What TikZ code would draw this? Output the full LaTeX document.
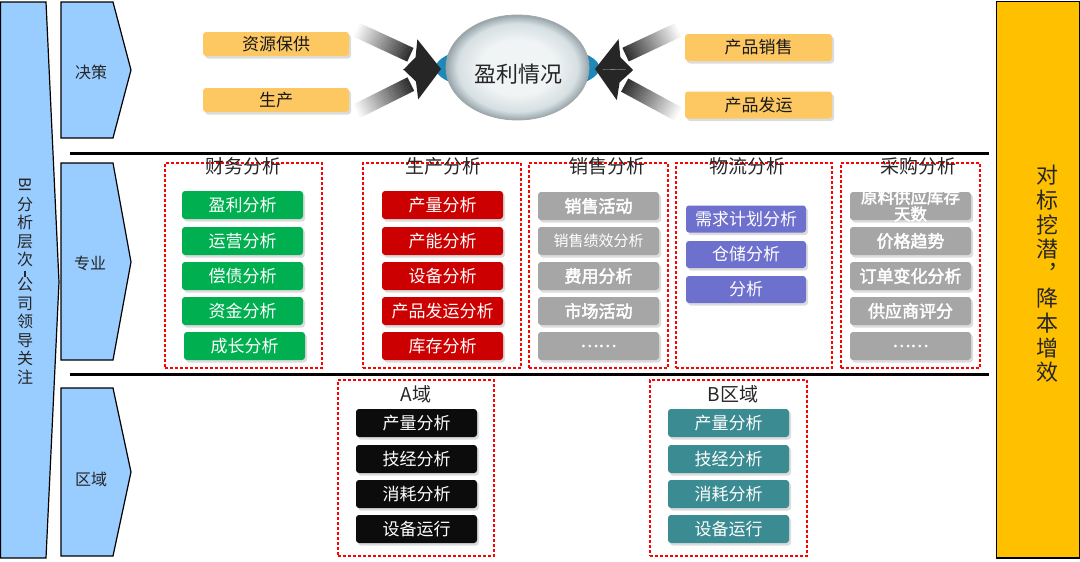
\documentclass[tikz,border=0pt]{standalone}
\usepackage{fontspec}
\setmainfont{Noto Sans CJK SC}[AutoFakeBold=2.5]
\usetikzlibrary{shapes.geometric,shadows,calc}
\definecolor{cblue}{RGB}{153,204,255}
\definecolor{cgold}{RGB}{255,192,0}
\definecolor{corange}{RGB}{253,200,98}
\definecolor{cgreen}{RGB}{0,176,80}
\definecolor{cred}{RGB}{204,0,0}
\definecolor{cgray}{RGB}{166,166,166}
\definecolor{cpurple}{RGB}{110,112,206}
\definecolor{cblack}{RGB}{12,12,12}
\definecolor{cteal}{RGB}{58,139,146}
\definecolor{ceye}{RGB}{30,136,184}
\definecolor{crim}{RGB}{150,165,171}
\definecolor{cmid}{RGB}{214,223,226}
\definecolor{ccore}{RGB}{240,244,245}
\pgfdeclareradialshading{lens}{\pgfpoint{0bp}{0bp}}{color(0bp)=(ccore); color(13bp)=(ccore); color(21bp)=(cmid); color(25bp)=(crim); color(50bp)=(crim)}
\newcommand\myfs[1]{\fontsize{#1}{#1}\selectfont}
\newcommand\fatarrow[2]{%
  \coordinate (ahS) at ($(#2)!34pt!(#1)$);
  \foreach \k in {0,...,23}{%
    \pgfmathsetmacro\fa{\k/24}%
    \pgfmathsetmacro\fb{(\k+1.1)/24}%
    \pgfmathsetmacro\fc{3+\k*3.4}%
    \draw[line width=15pt, black!\fc] ($(#1)!\fa!(ahS)$) -- ($(#1)!\fb!(ahS)$);
  }
  \fill[black!85] ($(ahS)!17pt!90:(#2)$) -- (#2) -- ($(ahS)!17pt!-90:(#2)$) -- ($(ahS)!6pt!(#2)$) -- cycle;
}
\tikzset{
  band/.style={fill=cblue, draw=black, line width=1.2pt, line join=miter},
  tag/.style={font=\myfs{16}, text=black!85, inner sep=0pt},
  shad/.style={drop shadow={shadow xshift=2pt, shadow yshift=-2.5pt, opacity=0.28}},
  obox/.style={fill=corange, rounded corners=3pt, minimum width=146pt, minimum height=24pt, inner sep=0pt, font=\myfs{17}, text=black!90, shad},
  sect/.style={draw=red, dash pattern=on 3pt off 2pt, line width=1.1pt, inner sep=0pt},
  stitle/.style={font=\myfs{19}, text=black!85, inner sep=0pt},
  abox/.style={rounded corners=3pt, minimum width=121pt, minimum height=28pt, inner sep=0pt, text=white, font=\myfs{17}, shad},
  gbox/.style={abox, fill=cgreen},
  rbox/.style={abox, fill=cred},
  sbox/.style={abox, fill=cgray, font=\myfs{17}\bfseries},
  pbox/.style={abox, fill=cpurple, minimum width=120pt, minimum height=27pt},
  kbox/.style={abox, fill=cblack},
  tbox/.style={abox, fill=cteal},
  sepline/.style={line width=3pt, black}
}
\begin{document}
\begin{tikzpicture}[x=1pt,y=-1pt]
\useasboundingbox (0,0) rectangle (1080,562);

% left bar
\draw[band] (0.6,2) -- (46,2) -- (59,282) -- (46,558) -- (0.6,558) -- cycle;
\node[align=center, font=\fontsize{16}{18.5}\selectfont, text=black!85, inner sep=0pt] (lbt) at (25,281)
  {\rotatebox[origin=c]{-90}{BI}\\[1pt]分\\析\\层\\次\\[-6pt]\rule[1pt]{1.6pt}{6pt}\\[-6pt]公\\司\\领\\导\\关\\注};

% right bar
\draw[fill=cgold, line width=1.5pt] (996.5,1.5) rectangle (1080,558);
\node[align=center, font=\fontsize{22}{24.6}\selectfont, text=black!85, inner sep=0pt] (rbt) at (1047,274)
  {对\\标\\挖\\潜\\︐\\降\\本\\增\\效};

% row chevrons
\draw[band] (61,2) -- (113,2) -- (131,70) -- (113,138) -- (61,138) -- cycle;
\node[tag] (t1) at (91,72) {决策};
\draw[band] (61,163) -- (113,163) -- (131,262) -- (113,360) -- (61,360) -- cycle;
\node[tag] (t2) at (90,263) {专业};
\draw[band] (61,388) -- (113,388) -- (131,472) -- (113,556) -- (61,556) -- cycle;
\node[tag] (t3) at (91,479) {区域};

% separators
\coordinate (s1a) at (70,153.5); \coordinate (s1b) at (989,153.5);
\coordinate (s2a) at (70,374); \coordinate (s2b) at (989,374);
\draw[sepline] (s1a) -- (s1b);
\draw[sepline] (s2a) -- (s2b);

% decision row
\node[obox] (o1) at (276,44) {资源保供};
\node[obox] (o2) at (276,100) {生产};
\node[obox, minimum width=147pt, minimum height=27pt] (o3) at (758.5,47.5) {产品销售};
\node[obox, minimum width=147pt, minimum height=27pt] (o4) at (758.5,105) {产品发运};

\fill[ceye] (517.5,68) ellipse [x radius=82, y radius=25];
\coordinate (a1) at (357,30); \coordinate (a2) at (357,111);
\coordinate (a3) at (678,30); \coordinate (a4) at (678,114);
\coordinate (tipL) at (441,69); \coordinate (tipR) at (595,69);
\fatarrow{a1}{tipL}
\fatarrow{a2}{tipL}
\fatarrow{a3}{tipR}
\fatarrow{a4}{tipR}
\node[ellipse, minimum width=143pt, minimum height=105pt, shading=lens, draw=gray!70, line width=0.8pt] (ell) at (517.5,67.5) {};
\node[font=\myfs{22}, text=black!85, inner sep=0pt] (ellt) at (518,74) {盈利情况};

% professional row sections
\node[sect, minimum width=157pt, minimum height=205pt] (fin) at (243.5,265.5) {};
\node[sect, minimum width=158pt, minimum height=205pt] (prod) at (442,265.5) {};
\node[sect, minimum width=139pt, minimum height=205pt] (sale) at (598.5,265.5) {};
\node[sect, minimum width=156pt, minimum height=205pt] (logi) at (754,265.5) {};
\node[sect, minimum width=139pt, minimum height=205pt] (purc) at (910.5,265.5) {};
\node[stitle] (finT) at (243,166) {财务分析};
\node[stitle] (prodT) at (443,166) {生产分析};
\node[stitle] (saleT) at (607,166) {销售分析};
\node[stitle] (logiT) at (747,166) {物流分析};
\node[stitle] (purcT) at (918,166) {采购分析};

\node[gbox] (g1) at (242.5,205) {盈利分析};
\node[gbox] (g2) at (242.5,241) {运营分析};
\node[gbox] (g3) at (242.5,276) {偿债分析};
\node[gbox] (g4) at (242.5,311) {资金分析};
\node[gbox] (g5) at (244.5,346) {成长分析};

\node[rbox] (r1) at (442.5,205) {产量分析};
\node[rbox] (r2) at (442.5,241) {产能分析};
\node[rbox] (r3) at (442.5,276) {设备分析};
\node[rbox] (r4) at (442.5,311) {产品发运分析};
\node[rbox] (r5) at (442.5,346) {库存分析};

\node[sbox] (x1) at (598.5,206) {销售活动};
\node[sbox, font=\myfs{15}\mdseries] (x2) at (598.5,241) {销售绩效分析};
\node[sbox] (x3) at (598.5,276) {费用分析};
\node[sbox] (x4) at (598.5,311) {市场活动};
\node[sbox] (x5) at (598.5,346) {……};

\node[pbox] (p1) at (746,219) {需求计划分析};
\node[pbox] (p2) at (746,254.5) {仓储分析};
\node[pbox] (p3) at (746,289.5) {分析};

\node[sbox] (y1) at (910.5,206) {};
\node[align=center, font=\fontsize{16.5}{17}\selectfont\bfseries, text=white, inner sep=0pt] (y1t) at (910.5,205.5) {原料供应库存\\天数};
\node[sbox] (y2) at (910.5,241) {价格趋势};
\node[sbox] (y3) at (910.5,276) {订单变化分析};
\node[sbox] (y4) at (910.5,311) {供应商评分};
\node[sbox] (y5) at (910.5,346) {……};

% region row
\node[sect, minimum width=156pt, minimum height=176pt] (ra) at (416,468) {};
\node[sect, minimum width=157pt, minimum height=176pt] (rb) at (728.5,468) {};
\node[stitle] (raT) at (416,394) {A域};
\node[stitle] (rbT) at (733,394) {B区域};

\node[kbox] (k1) at (416.5,423) {产量分析};
\node[kbox] (k2) at (416.5,459) {技经分析};
\node[kbox] (k3) at (416.5,494) {消耗分析};
\node[kbox] (k4) at (416.5,529) {设备运行};

\node[tbox] (b1) at (728.5,423) {产量分析};
\node[tbox] (b2) at (728.5,459) {技经分析};
\node[tbox] (b3) at (728.5,494) {消耗分析};
\node[tbox] (b4) at (728.5,529) {设备运行};
\end{tikzpicture}
\end{document}
